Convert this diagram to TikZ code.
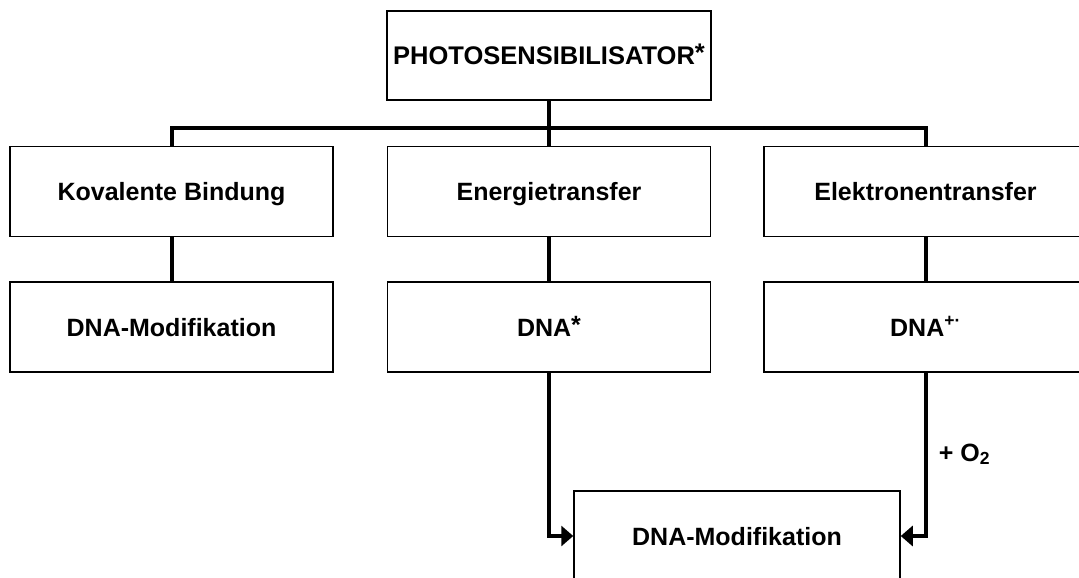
\documentclass[tikz,border=0pt]{standalone}
\usepackage{fontspec}
\setmainfont{Liberation Sans}
\usetikzlibrary{arrows.meta}
\newcommand{\bigast}{\raisebox{3pt}{*}}
\begin{document}
\begin{tikzpicture}[x=1pt,y=-1pt,
  lbl/.style={font=\fontsize{25}{29}\selectfont\bfseries},
  box/.style={lbl, draw, line width=1.5pt, minimum width=323pt, minimum height=90pt, inner sep=0pt,
    text height=18pt, text depth=0pt},
  conn/.style={line width=4pt},
  tip/.style={-{Triangle[length=12pt,width=20pt]}}
]
\useasboundingbox (0,0) rectangle (1079,578);
\node[box, minimum width=324pt, minimum height=89pt, font=\fontsize{25.5}{29}\selectfont\bfseries] (top) at (549,55.5) {PHOTOSENSIBILISATOR\bigast};
\node[box] (kov) at (171.5,191.5) {Kovalente Bindung};
\node[box] (ene) at (549,191.5) {Energietransfer};
\node[box] (ele) at (925.5,191.5) {Elektronentransfer};
\node[box] (mod1) at (171.5,327) {DNA-Modifikation};
\node[box] (dnas) at (549,327) {DNA\bigast};
\node[box] (dnar) at (925.5,327) {DNA\textsuperscript{+·}};
\node[box, minimum width=326pt] (mod2) at (737,536) {DNA-Modifikation};
\coordinate (bar) at (549,128);
\draw[conn] (kov.north) |- (bar) -| (ele.north);
\draw[conn] (top.south) -- (ene.north);
\draw[conn] (kov.south) -- (mod1.north);
\draw[conn] (ene.south) -- (dnas.north);
\draw[conn] (ele.south) -- (dnar.north);
\draw[conn, tip] (dnas.south) |- (mod2.west);
\draw[conn, tip] (dnar.south) |- node[pos=0.25, anchor=west, xshift=8pt, lbl] (o2) {+ O\textsubscript{2}} (mod2.east);
\end{tikzpicture}
\end{document}
